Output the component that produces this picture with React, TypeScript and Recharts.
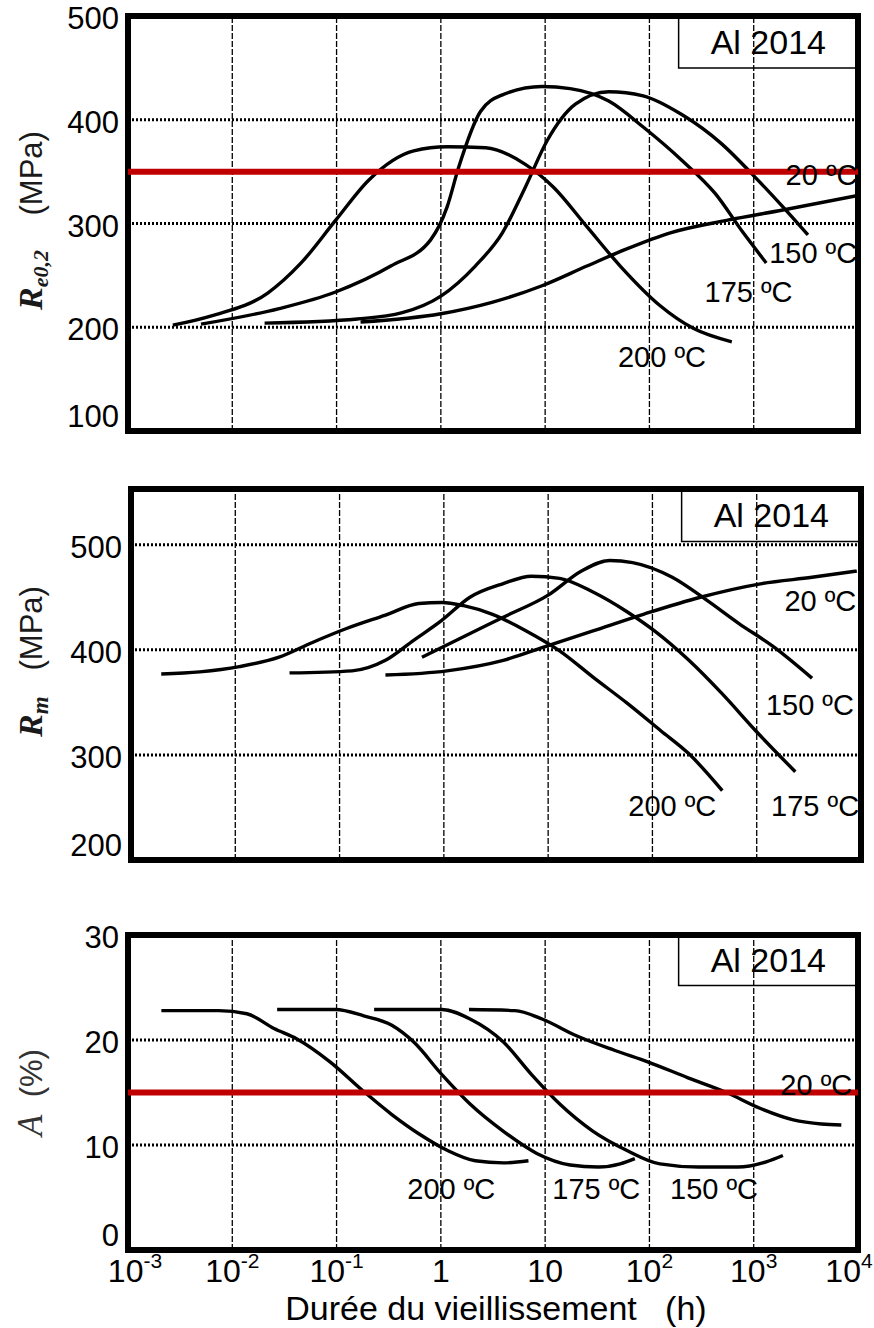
import { Label, Line, LineChart, ReferenceArea, ReferenceDot, ReferenceLine, XAxis, YAxis } from "recharts";

const SANS = '"Liberation Sans", Arial, sans-serif';
const SERIF = '"Liberation Serif", "Times New Roman", serif';

// time axis: log10 of ageing duration (h)
const logTicks = [-3, -2, -1, 0, 1, 2, 3, 4];
const logTickBase = ["10", "10", "10", "1", "10", "10", "10", "10"];
const logTickExp = ["-3", "-2", "-1", "", "", "2", "3", "4"];
const decadeGrid = [-2, -1, 0, 1, 2, 3];

// Re0,2 (MPa)  [log10 h, MPa]
const yield200 = [[-2.57, 202], [-2.2, 211], [-1.66, 233], [-1.34, 262], [-1.01, 303], [-0.69, 342], [-0.26, 370], [0.06, 374], [0.43, 373], [0.81, 357], [1.08, 335], [1.4, 297], [1.72, 259], [2.1, 221], [2.42, 199], [2.79, 186]];
const yield175 = [[-2.3, 203], [-1.55, 218], [-1.01, 234], [-0.48, 259], [-0.1, 284], [0.06, 316], [0.17, 354], [0.38, 408], [0.59, 424], [0.97, 432], [1.24, 430], [1.61, 418], [1.94, 393], [2.31, 361], [2.63, 329], [2.9, 291], [3.12, 262]];
const yield150 = [[-1.69, 204], [-0.8, 208], [-0.37, 214], [0, 230], [0.33, 259], [0.59, 291], [0.81, 335], [1.02, 380], [1.29, 415], [1.61, 427], [1.94, 423], [2.31, 405], [2.69, 377], [3.01, 345], [3.28, 316], [3.52, 289]];
const yield20 = [[-0.77, 205], [0, 213], [0.49, 224], [0.97, 240], [1.4, 259], [1.77, 275], [2.2, 291], [2.74, 303], [3.28, 313], [4, 327]];
const yieldTicks = [100, 200, 300, 400, 500];
const yieldGrid = [200, 300, 400];
const yieldLimit = 350;

// Rm (MPa)
const tensile200 = [[-2.71, 377], [-2.34, 379], [-1.96, 384], [-1.58, 393], [-1.26, 407], [-0.94, 420], [-0.56, 433], [-0.24, 444], [-0.02, 445], [0.19, 442], [0.46, 434], [0.79, 418], [1.11, 399], [1.43, 374], [1.76, 349], [2.08, 323], [2.35, 301], [2.67, 266]];
const tensile175 = [[-1.48, 378], [-0.88, 380], [-0.56, 390], [-0.29, 409], [-0.02, 428], [0.25, 450], [0.57, 463], [0.84, 470], [1.11, 468], [1.43, 455], [1.76, 436], [2.02, 418], [2.35, 390], [2.67, 358], [2.99, 323], [3.37, 284]];
const tensile150 = [[-0.21, 393], [0.14, 410], [0.57, 431], [1, 452], [1.32, 475], [1.59, 485], [1.81, 483], [2.19, 469], [2.51, 448], [2.83, 425], [3.16, 403], [3.53, 373]];
const tensile20 = [[-0.56, 376], [0.03, 380], [0.57, 390], [1, 404], [1.43, 418], [1.92, 434], [2.46, 450], [3.05, 463], [3.53, 469], [3.96, 475]];
const tensileTicks = [200, 300, 400, 500];
const tensileGrid = [300, 400, 500];

// A (%)
const elong200 = [[-2.68, 22.8], [-2.13, 22.8], [-1.86, 22.5], [-1.6, 21.1], [-1.38, 20.1], [-1.06, 17.9], [-0.74, 15.1], [-0.47, 12.9], [-0.2, 11.0], [0.06, 9.5], [0.33, 8.5], [0.6, 8.3], [0.84, 8.5]];
const elong175 = [[-1.57, 22.9], [-1.01, 22.9], [-0.74, 22.3], [-0.47, 21.4], [-0.26, 19.8], [0.01, 16.7], [0.28, 13.9], [0.6, 11.3], [0.92, 9.2], [1.24, 8.1], [1.51, 7.9], [1.72, 8.2], [1.86, 8.7]];
const elong150 = [[-0.64, 22.9], [0.01, 22.9], [0.28, 22.0], [0.6, 19.8], [0.87, 16.7], [1.14, 13.9], [1.46, 11.3], [1.78, 9.5], [2.1, 8.2], [2.47, 7.9], [2.85, 7.9], [3.12, 8.4], [3.28, 9.0]];
const elong20 = [[0.27, 22.9], [0.71, 22.8], [0.97, 22.0], [1.3, 20.4], [1.67, 19.0], [1.99, 17.9], [2.37, 16.4], [2.74, 15.0], [3.06, 13.5], [3.38, 12.4], [3.65, 12.0], [3.84, 11.9]];
const elongTicks = [0, 10, 20, 30];
const elongGrid = [10, 20];
const elongLimit = 15;

// curve labels [text, log10 h, value]
const yieldLabels: [string, number, number][] = [["20 ºC", 3.65, 347], ["150 ºC", 3.57, 272], ["175 ºC", 2.95, 234], ["200 ºC", 2.12, 172]];
const tensileLabels: [string, number, number][] = [["20 ºC", 3.61, 447], ["150 ºC", 3.51, 348], ["175 ºC", 3.56, 252], ["200 ºC", 2.19, 252]];
const elongLabels: [string, number, number][] = [["200 ºC", 0.1, 5.8], ["175 ºC", 1.49, 5.8], ["150 ºC", 2.62, 5.8], ["20 ºC", 3.6, 15.7]];

const toRows = (pairs: number[][]) => pairs.map(([lg, v]) => ({ lg, v }));

const LogTick = ({ x, y, payload }: any) => {
    const i = logTicks.indexOf(payload.value);
    // end labels are pulled inside the page like in the scan
    const nudge = i === 0 ? 7 : i === logTicks.length - 1 ? -9 : 0;
    return (
        <text x={x + nudge} y={y + 32} textAnchor="middle" fontFamily={SANS} fontSize={32} fill="#000">
            {logTickBase[i]}
            {logTickExp[i] && <tspan dy={-14} fontSize={21}>{logTickExp[i]}</tspan>}
        </text>
    );
};

// the lowest value sits just above the bottom frame line
const ValueTick = ({ x, y, payload, lowest }: any) => (
    <text x={x} y={payload.value === lowest ? y - 4 : y + 2} dy={payload.value === lowest ? 0 : "0.355em"}
        textAnchor="end" fontFamily={SANS} fontSize={31} fill="#000">
        {payload.value}
    </text>
);

type PanelProps = {
    top: number,
    height: number,
    margin: { top: number, right: number, bottom: number, left: number },
    yWidth: number,
    yDomain: [number, number],
    yTicks: number[],
    hGrid: number[],
    series: number[][][],
    labels: [string, number, number][],
    boxBottom: number,
    limit?: number,
    yLabel: (cx: number, cy: number) => any,
    yLabelShift: number,
    showX?: boolean,
};

const Panel = ({ top, height, margin, yWidth, yDomain, yTicks, hGrid, series, labels, boxBottom, limit, yLabel, yLabelShift, showX }: PanelProps) => (
    <div style={{ position: "absolute", left: 0, top }}>
        <LineChart width={874} height={height} margin={margin}>
            <XAxis type="number" dataKey="lg" domain={[-3, 4]} ticks={logTicks} interval={0} allowDataOverflow
                hide={!showX} height={78} axisLine={false} tickLine={false} tickSize={0} tickMargin={0} tick={<LogTick />}>
                {showX && (
                    <Label content={({ viewBox }: any) => (
                        <text x={viewBox.x + viewBox.width / 2 + 3} y={viewBox.y + 70} textAnchor="middle"
                            fontFamily={SANS} fontSize={34} fill="#000" style={{ whiteSpace: "pre" }}>
                            {"Durée du vieillissement   (h)"}
                        </text>
                    )} />
                )}
            </XAxis>
            <YAxis type="number" domain={yDomain} ticks={yTicks} interval={0} allowDataOverflow width={yWidth}
                axisLine={false} tickLine={false} tickSize={0} tickMargin={9}
                tick={<ValueTick lowest={yDomain[0]} />}>
                <Label content={({ viewBox }: any) => yLabel(42, viewBox.y + viewBox.height / 2 + yLabelShift)} />
            </YAxis>

            {decadeGrid.map((d) => (
                <ReferenceLine key={`v${d}`} x={d} stroke="#000" strokeWidth={1.3} strokeDasharray="6 2" />
            ))}
            {hGrid.map((g) => (
                <ReferenceLine key={`h${g}`} y={g} stroke="#000" strokeWidth={3} strokeDasharray="2 2" />
            ))}
            <ReferenceArea x1={2.28} x2={4} y1={boxBottom} y2={yDomain[1]} fill="#fff" fillOpacity={1} stroke="#000" strokeWidth={1.5}
                label={{ value: "Al 2014", position: "center", fontSize: 34, fill: "#000", fontFamily: SANS }} />

            {series.map((s, i) => (
                <Line key={i} data={toRows(s)} dataKey="v" type="monotone" stroke="#000" strokeWidth={3.4}
                    dot={false} activeDot={false} isAnimationActive={false} />
            ))}

            {labels.map(([text, lg, v]) => (
                <ReferenceDot key={text} x={lg} y={v} r={0} fill="none" stroke="none"
                    label={{ value: text, position: "center", fontSize: 29, fill: "#000", fontFamily: SANS }} />
            ))}

            {limit !== undefined && <ReferenceLine y={limit} stroke="#c00000" strokeWidth={6} />}

            <ReferenceArea x1={-3} x2={4} y1={yDomain[0]} y2={yDomain[1]} fill="none" stroke="#000" strokeWidth={6} />
        </LineChart>
    </div>
);

const App = () => {
    return (
        <div style={{ position: "absolute", left: 0, top: 0, width: 874, height: 1328, background: "#fff" }}>
            <Panel
                top={0} height={450}
                margin={{ top: 16, right: 16, bottom: 19, left: 0 }} yWidth={128}
                yDomain={[100, 500]} yTicks={yieldTicks} hGrid={yieldGrid}
                series={[yield200, yield175, yield150, yield20]} labels={yieldLabels}
                boxBottom={450} limit={yieldLimit} yLabelShift={-3}
                yLabel={(cx, cy) => (
                    <text x={cx} y={cy} transform={`rotate(-90 ${cx} ${cy})`} textAnchor="middle" fill="#1a1a1a" style={{ whiteSpace: "pre" }}>
                        <tspan fontFamily={SERIF} fontStyle="italic" fontWeight="bold" fontSize={34}>R</tspan>
                        <tspan fontFamily={SERIF} fontStyle="italic" fontWeight="bold" fontSize={22} dy={6}>e0,2</tspan>
                        <tspan fontFamily={SANS} fontSize={31} dy={-6}>{"    (MPa)"}</tspan>
                    </text>
                )}
            />
            <Panel
                top={470} height={400}
                margin={{ top: 19, right: 13, bottom: 10, left: 0 }} yWidth={131}
                yDomain={[200, 553]} yTicks={tensileTicks} hGrid={tensileGrid}
                series={[tensile200, tensile175, tensile150, tensile20]} labels={tensileLabels}
                boxBottom={503} yLabelShift={-13}
                yLabel={(cx, cy) => (
                    <text x={cx} y={cy} transform={`rotate(-90 ${cx} ${cy})`} textAnchor="middle" fill="#1a1a1a" style={{ whiteSpace: "pre" }}>
                        <tspan fontFamily={SERIF} fontStyle="italic" fontWeight="bold" fontSize={34}>R</tspan>
                        <tspan fontFamily={SERIF} fontStyle="italic" fontWeight="bold" fontSize={23} dy={6}>m</tspan>
                        <tspan fontFamily={SANS} fontSize={31} dy={-6}>{"   (MPa)"}</tspan>
                    </text>
                )}
            />
            <Panel
                top={900} height={428}
                margin={{ top: 35, right: 16, bottom: 0, left: 0 }} yWidth={128}
                yDomain={[0, 30]} yTicks={elongTicks} hGrid={elongGrid}
                series={[elong200, elong175, elong150, elong20]} labels={elongLabels}
                boxBottom={25.2} limit={elongLimit} yLabelShift={0} showX
                yLabel={(cx, cy) => (
                    <text x={cx} y={cy} transform={`rotate(-90 ${cx} ${cy})`} textAnchor="middle" fill="#333" style={{ whiteSpace: "pre" }}>
                        <tspan fontFamily={SERIF} fontStyle="italic" fontSize={35}>A</tspan>
                        <tspan fontFamily={SANS} fontSize={31}>{"  (%)"}</tspan>
                    </text>
                )}
            />
        </div>
    );
};

export default App;
